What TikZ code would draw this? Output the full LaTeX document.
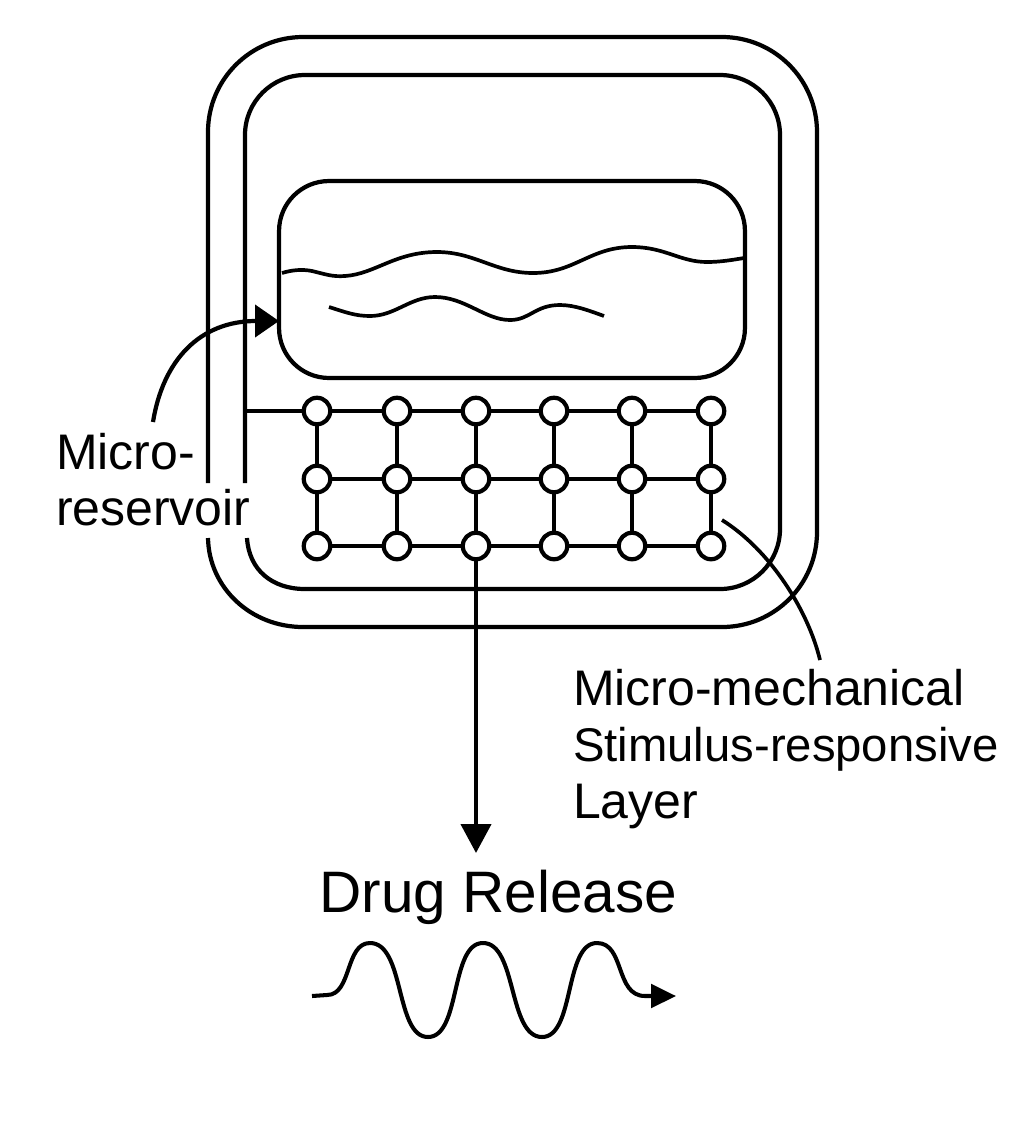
\documentclass[tikz,border=0pt]{standalone}
\usepackage{fontspec}
\setmainfont{Liberation Sans}
\usetikzlibrary{arrows.meta,positioning,calc}

\begin{document}
\begin{tikzpicture}[x=0.02cm, y=-0.02cm, line width=2.4pt, line join=round,
        >={Triangle[length=0.58cm,width=0.6cm]},
        reservoir/.style={rectangle, draw, rounded corners=1cm, minimum width=9.32cm, minimum height=3.94cm, inner sep=0pt},
        junction/.style={circle, draw, fill=white, minimum size=0.53cm, inner sep=0pt},
        label/.style={align=left, inner sep=0pt, anchor=north west, font=\fontsize{28.45}{32.2}\selectfont},
        wavy/.style={line width=2.1pt}]
        \useasboundingbox (0,0) rectangle (1023,1134);

        % housing, both walls open at the label
        \draw [rounded corners=1.9cm] (208,483) -- (208,37) -- (817,37) -- (817,627) -- (303,627);
        \draw (303,627) .. controls (251,627) and (209,588) .. (208,538);
        \draw [rounded corners=1.2cm] (245,483) -- (245,75) -- (780,75) -- (780,589) -- (305,589);
        \draw (305,589) .. controls (272,589) and (249,570) .. (247,538);

        \node [reservoir] (res) at (512,279.5) {};
        \draw [wavy] (282,273) .. controls (292,270) and (302,269) .. (312,271)
            .. controls (325,274) and (332,277) .. (345,276)
            .. controls (375,274) and (395,252) .. (437,252)
            .. controls (475,252) and (495,273) .. (533,273)
            .. controls (575,273) and (590,247) .. (632,247)
            .. controls (665,247) and (680,262) .. (707,262)
            .. controls (720,262) and (732,260) .. (744,258);
        \draw [wavy] (329,307) .. controls (345,312) and (355,316) .. (370,316)
            .. controls (395,316) and (410,297) .. (435,297)
            .. controls (465,297) and (485,320) .. (510,320)
            .. controls (530,320) and (535,305) .. (560,305)
            .. controls (575,305) and (590,311) .. (604,316);

        % stimulus layer
        \foreach \name/\px in {a/317,b/397,c/476,d/554,e/632,f/711}
            \foreach \row/\py in {1/411,2/479,3/546}
                \node [junction] (\name\row) at (\px,\py) {};
        \coordinate (wall) at (245,411);
        \draw (wall) -- (a1);
        \foreach \from/\to in {a/b,b/c,c/d,d/e,e/f}
            \foreach \row in {1,2,3}
                \draw (\from\row) -- (\to\row);
        \foreach \name in {a,b,c,d,e,f} {
            \draw (\name1) -- (\name2);
            \draw (\name2) -- (\name3);
        }

        \coordinate (restip) at (279,321);
        \coordinate (restail) at (153,422);
        \draw [-{Triangle[length=0.48cm,width=0.64cm]}] (restail) .. controls (163,360) and (200,321) .. (restip);
        \node [label] (micro) at (54,431) {Micro-\\reservoir};

        \coordinate (layertail) at (722,520);
        \coordinate (layerhead) at (820,660);
        \draw [line width=2.1pt] (layertail) .. controls (770,550) and (808,610) .. (layerhead);
        \node [label] (layer) at (571,667) {Micro-mechanical\\{\fontsize{26.9}{32.2}\selectfont Stimulus-responsive}\\Layer};

        \coordinate (dropend) at (476,853);
        \draw [->] (c3) -- (dropend);
        \node [font=\fontsize{33.3}{36}\selectfont, anchor=base, inner sep=0pt] (drug) at (498.5,912) {Drug Release};

        \coordinate (sinestart) at (312,996);
        \coordinate (sineend) at (676,996);
        \draw [line width=2.3pt, -{Triangle[length=0.5cm,width=0.47cm]}] (sinestart) -- (327,995)
            .. controls (352,995) and (345,943) .. (370,943)
            .. controls (405,943) and (395,1037) .. (428,1037)
            .. controls (461,1037) and (450,943) .. (483,943)
            .. controls (517,943) and (508,1037) .. (542,1037)
            .. controls (575,1037) and (564,943) .. (597,943)
            .. controls (625,943) and (615,996) .. (645,996)
            -- (sineend);
\end{tikzpicture}
\end{document}
